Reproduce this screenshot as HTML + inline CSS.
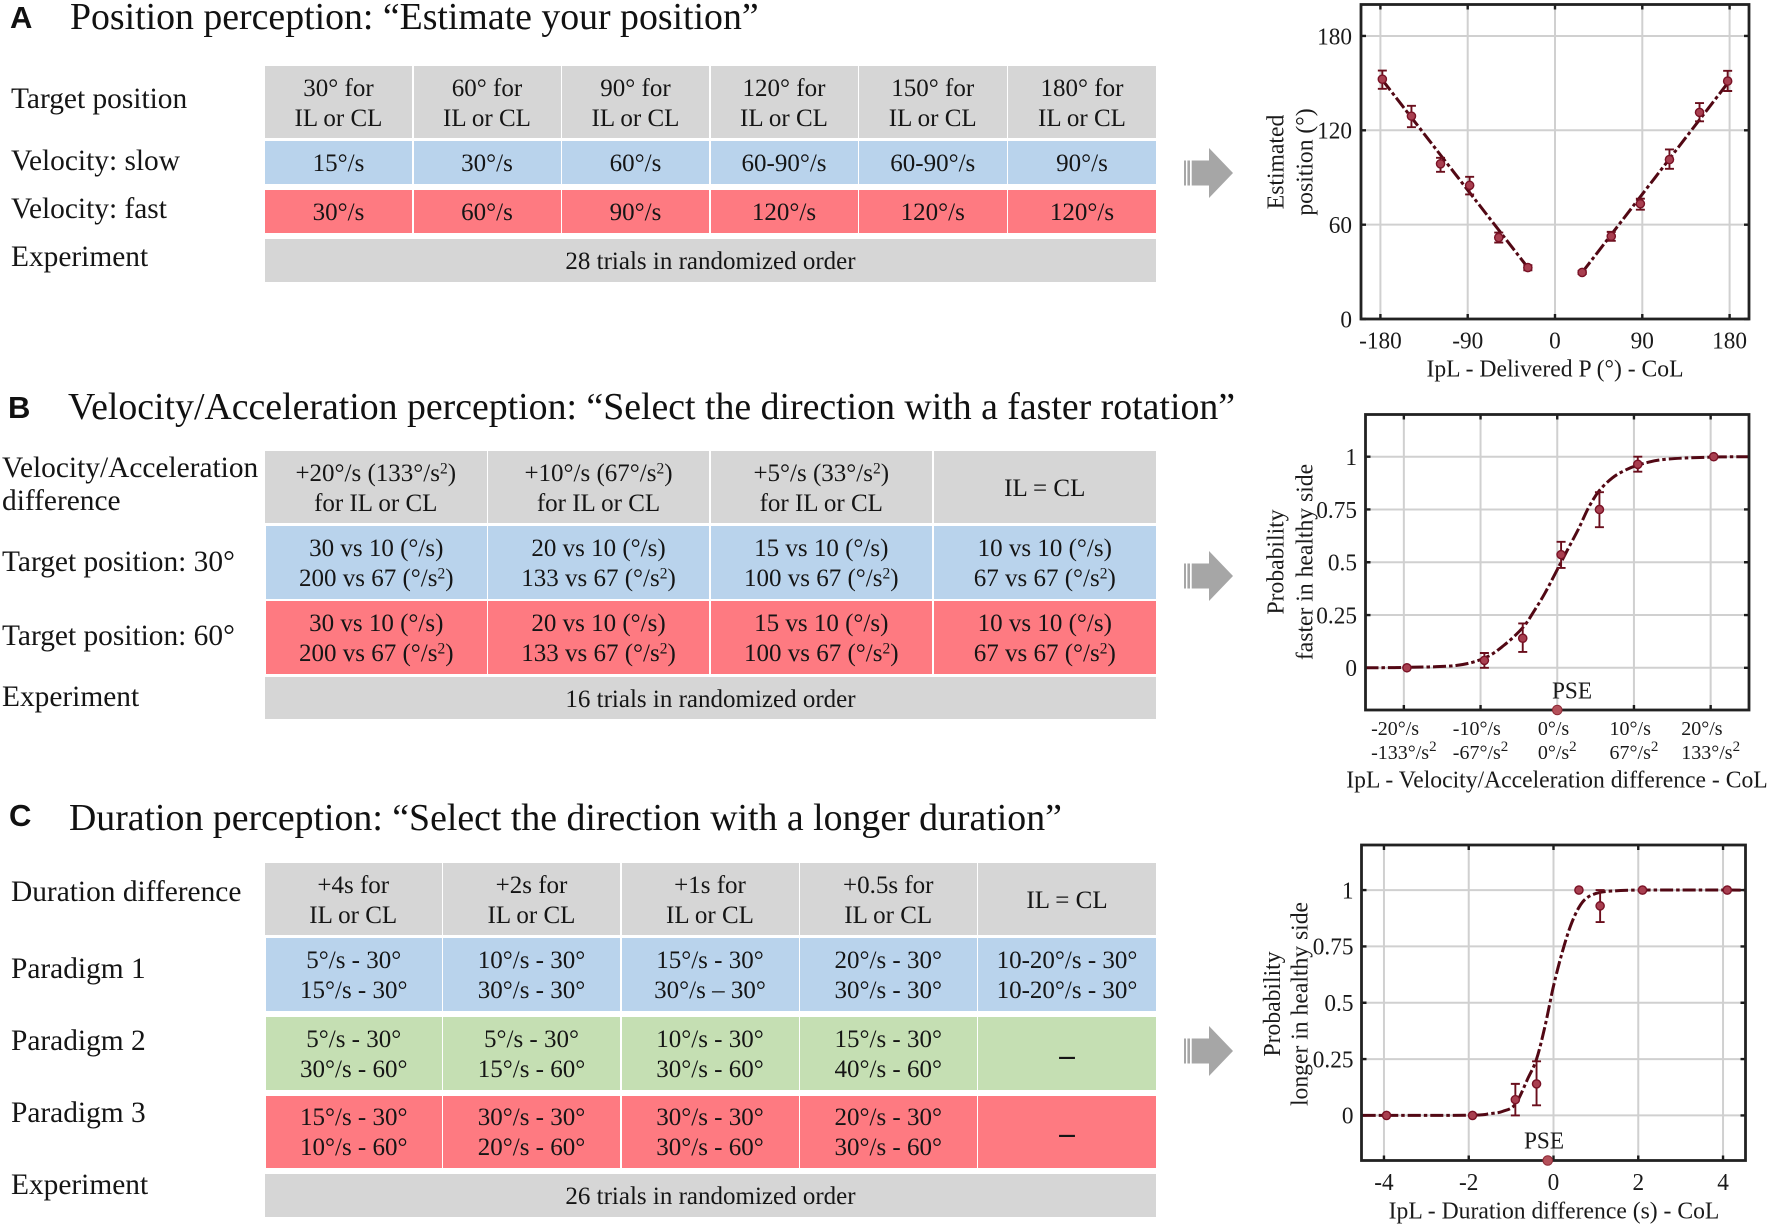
<!DOCTYPE html>
<html lang="en">
<head>
<meta charset="utf-8">
<title>Perception experiment paradigms</title>
<style>
html,body{margin:0;padding:0;background:#fff}
#page{position:relative;width:1772px;height:1225px;overflow:hidden;background:#fff;font-family:"Liberation Serif",serif;color:#151515;filter:blur(.3px)}
.t{position:absolute;white-space:nowrap;font-size:37.8px;line-height:44px;color:#111}
.p{position:absolute;font-family:"Liberation Sans",sans-serif;font-weight:700;font-size:31px;line-height:34px;color:#111}
.l{position:absolute;white-space:nowrap;font-size:29.4px;line-height:34px;color:#151515}
.c{position:absolute;box-sizing:border-box;padding-top:3px;display:flex;align-items:center;justify-content:center;text-align:center;font-size:25px;line-height:30px;color:#151515}
.g{background:#d6d6d6}.b{background:#b9d3ec}.r{background:#fe7a81}.e{background:#c5dfb3}
.d{font-size:31px;font-weight:700}
sup{font-size:.62em;line-height:0;vertical-align:.5em}
#art{position:absolute;left:0;top:0}
#art text{font-family:"Liberation Serif",serif;fill:#1a1a1a}
</style>
</head>
<body>
<div id="page">

<div class="p" style="left:10px;top:1px">A</div>
<div class="t" style="left:70px;top:-5px">Position perception: “Estimate your position”</div>
<div class="l" style="left:11px;top:82px">Target position</div>
<div class="l" style="left:11px;top:144px">Velocity: slow</div>
<div class="l" style="left:11px;top:192px">Velocity: fast</div>
<div class="l" style="left:11px;top:240px">Experiment</div>

<div class="c g" style="left:265px;top:66px;width:147px;height:72px">30° for<br>IL or CL</div>
<div class="c g" style="left:413.5px;top:66px;width:147px;height:72px">60° for<br>IL or CL</div>
<div class="c g" style="left:562px;top:66px;width:147px;height:72px">90° for<br>IL or CL</div>
<div class="c g" style="left:710.5px;top:66px;width:147px;height:72px">120° for<br>IL or CL</div>
<div class="c g" style="left:859px;top:66px;width:147.5px;height:72px">150° for<br>IL or CL</div>
<div class="c g" style="left:1008px;top:66px;width:148px;height:72px">180° for<br>IL or CL</div>

<div class="c b" style="left:265px;top:141px;width:147px;height:43px">15°/s</div>
<div class="c b" style="left:413.5px;top:141px;width:147px;height:43px">30°/s</div>
<div class="c b" style="left:562px;top:141px;width:147px;height:43px">60°/s</div>
<div class="c b" style="left:710.5px;top:141px;width:147px;height:43px">60-90°/s</div>
<div class="c b" style="left:859px;top:141px;width:147.5px;height:43px">60-90°/s</div>
<div class="c b" style="left:1008px;top:141px;width:148px;height:43px">90°/s</div>

<div class="c r" style="left:265px;top:190px;width:147px;height:43px">30°/s</div>
<div class="c r" style="left:413.5px;top:190px;width:147px;height:43px">60°/s</div>
<div class="c r" style="left:562px;top:190px;width:147px;height:43px">90°/s</div>
<div class="c r" style="left:710.5px;top:190px;width:147px;height:43px">120°/s</div>
<div class="c r" style="left:859px;top:190px;width:147.5px;height:43px">120°/s</div>
<div class="c r" style="left:1008px;top:190px;width:148px;height:43px">120°/s</div>

<div class="c g" style="left:265px;top:239px;width:891px;height:43px">28 trials in randomized order</div>

<div class="p" style="left:8px;top:391px">B</div>
<div class="t" style="left:68px;top:385px">Velocity/Acceleration perception: “Select the direction with a faster rotation”</div>
<div class="l" style="left:2px;top:451px">Velocity/Acceleration</div>
<div class="l" style="left:2px;top:484px">difference</div>
<div class="l" style="left:2px;top:545px">Target position: 30°</div>
<div class="l" style="left:2px;top:619px">Target position: 60°</div>
<div class="l" style="left:2px;top:680px">Experiment</div>

<div class="c g" style="left:265px;top:451px;width:221.5px;height:72px"><span>+20°/s (133°/s<sup>2</sup>)<br>for IL or CL</span></div>
<div class="c g" style="left:488px;top:451px;width:221px;height:72px"><span>+10°/s (67°/s<sup>2</sup>)<br>for IL or CL</span></div>
<div class="c g" style="left:710.5px;top:451px;width:221.5px;height:72px"><span>+5°/s (33°/s<sup>2</sup>)<br>for IL or CL</span></div>
<div class="c g" style="left:933.5px;top:451px;width:222.5px;height:72px">IL = CL</div>

<div class="c b" style="left:266px;top:526px;width:220.5px;height:73px"><span>30 vs 10 (°/s)<br>200 vs 67 (°/s<sup>2</sup>)</span></div>
<div class="c b" style="left:488px;top:526px;width:221px;height:73px"><span>20 vs 10 (°/s)<br>133 vs 67 (°/s<sup>2</sup>)</span></div>
<div class="c b" style="left:710.5px;top:526px;width:221.5px;height:73px"><span>15 vs 10 (°/s)<br>100 vs 67 (°/s<sup>2</sup>)</span></div>
<div class="c b" style="left:933.5px;top:526px;width:222.5px;height:73px"><span>10 vs 10 (°/s)<br>67 vs 67 (°/s<sup>2</sup>)</span></div>

<div class="c r" style="left:266px;top:601px;width:220.5px;height:72.5px"><span>30 vs 10 (°/s)<br>200 vs 67 (°/s<sup>2</sup>)</span></div>
<div class="c r" style="left:488px;top:601px;width:221px;height:72.5px"><span>20 vs 10 (°/s)<br>133 vs 67 (°/s<sup>2</sup>)</span></div>
<div class="c r" style="left:710.5px;top:601px;width:221.5px;height:72.5px"><span>15 vs 10 (°/s)<br>100 vs 67 (°/s<sup>2</sup>)</span></div>
<div class="c r" style="left:933.5px;top:601px;width:222.5px;height:72.5px"><span>10 vs 10 (°/s)<br>67 vs 67 (°/s<sup>2</sup>)</span></div>

<div class="c g" style="left:265px;top:677px;width:891px;height:42px">16 trials in randomized order</div>

<div class="p" style="left:9px;top:799px">C</div>
<div class="t" style="left:69px;top:796px">Duration perception: “Select the direction with a longer duration”</div>
<div class="l" style="left:11px;top:875px">Duration difference</div>
<div class="l" style="left:11px;top:952px">Paradigm 1</div>
<div class="l" style="left:11px;top:1024px">Paradigm 2</div>
<div class="l" style="left:11px;top:1096px">Paradigm 3</div>
<div class="l" style="left:11px;top:1168px">Experiment</div>

<div class="c g" style="left:265px;top:863px;width:176.5px;height:72px">+4s for<br>IL or CL</div>
<div class="c g" style="left:443px;top:863px;width:177px;height:72px">+2s for<br>IL or CL</div>
<div class="c g" style="left:621.5px;top:863px;width:177px;height:72px">+1s for<br>IL or CL</div>
<div class="c g" style="left:800px;top:863px;width:176.5px;height:72px">+0.5s for<br>IL or CL</div>
<div class="c g" style="left:978px;top:863px;width:178px;height:72px">IL = CL</div>

<div class="c b" style="left:266px;top:938px;width:175.5px;height:73px">5°/s - 30°<br>15°/s - 30°</div>
<div class="c b" style="left:443px;top:938px;width:177px;height:73px">10°/s - 30°<br>30°/s - 30°</div>
<div class="c b" style="left:621.5px;top:938px;width:177px;height:73px">15°/s - 30°<br>30°/s – 30°</div>
<div class="c b" style="left:800px;top:938px;width:176.5px;height:73px">20°/s - 30°<br>30°/s - 30°</div>
<div class="c b" style="left:978px;top:938px;width:178px;height:73px">10-20°/s - 30°<br>10-20°/s - 30°</div>

<div class="c e" style="left:266px;top:1017px;width:175.5px;height:72.5px">5°/s - 30°<br>30°/s - 60°</div>
<div class="c e" style="left:443px;top:1017px;width:177px;height:72.5px">5°/s - 30°<br>15°/s - 60°</div>
<div class="c e" style="left:621.5px;top:1017px;width:177px;height:72.5px">10°/s - 30°<br>30°/s - 60°</div>
<div class="c e" style="left:800px;top:1017px;width:176.5px;height:72.5px">15°/s - 30°<br>40°/s - 60°</div>
<div class="c e" style="left:978px;top:1017px;width:178px;height:72.5px"><span class="d">–</span></div>

<div class="c r" style="left:266px;top:1095.5px;width:175.5px;height:72.5px">15°/s - 30°<br>10°/s - 60°</div>
<div class="c r" style="left:443px;top:1095.5px;width:177px;height:72.5px">30°/s - 30°<br>20°/s - 60°</div>
<div class="c r" style="left:621.5px;top:1095.5px;width:177px;height:72.5px">30°/s - 30°<br>30°/s - 60°</div>
<div class="c r" style="left:800px;top:1095.5px;width:176.5px;height:72.5px">20°/s - 30°<br>30°/s - 60°</div>
<div class="c r" style="left:978px;top:1095.5px;width:178px;height:72.5px"><span class="d">–</span></div>

<div class="c g" style="left:265px;top:1174px;width:891px;height:43px">26 trials in randomized order</div>

<svg id="art" width="1772" height="1225" viewBox="0 0 1772 1225" xmlns="http://www.w3.org/2000/svg">
  <g fill="#a6a6a6" transform="translate(0,173)">
    <rect x="1184" y="-12.5" width="2" height="25"/><rect x="1187.4" y="-12.5" width="2.6" height="25"/><rect x="1191.7" y="-12.5" width="18" height="25"/><polygon points="1209,-25 1233,0 1209,25"/>
  </g>
  <g fill="#a6a6a6" transform="translate(0,576)">
    <rect x="1184" y="-12.5" width="2" height="25"/><rect x="1187.4" y="-12.5" width="2.6" height="25"/><rect x="1191.7" y="-12.5" width="18" height="25"/><polygon points="1209,-25 1233,0 1209,25"/>
  </g>
  <g fill="#a6a6a6" transform="translate(0,1051)">
    <rect x="1184" y="-12.5" width="2" height="25"/><rect x="1187.4" y="-12.5" width="2.6" height="25"/><rect x="1191.7" y="-12.5" width="18" height="25"/><polygon points="1209,-25 1233,0 1209,25"/>
  </g>
  <g id="chart-a"></g>
  <g id="chart-b"></g>
  <g id="chart-c"></g>
</svg>
</div>

<script>
/* Chart A: position perception */
const positionXTicks = [-180, -90, 0, 90, 180];
const positionYTicks = [0, 60, 120, 180];
const positionX = [-178, -148, -118, -88, -58, -28, 28, 58, 88, 118, 149, 178];
const positionY = [152.5, 129, 98.7, 85, 51.8, 32.7, 29.6, 52.6, 73.3, 101.4, 131.4, 151.3];
const positionErrLow = [146.4, 122, 93.6, 79.2, 48.6, 31, 28.6, 49.7, 69.5, 95.5, 125.7, 145];
const positionErrHigh = [158, 135.6, 102.5, 90.4, 55, 34.2, 30.6, 55.4, 76.5, 107.8, 137.3, 157.8];
const positionFitLeftX = [-178, -28];
const positionFitLeftY = [152, 32.7];
const positionFitRightX = [28, 178];
const positionFitRightY = [29.6, 150];

/* Chart B: velocity / acceleration perception */
const velocityXTicks = [-20, -10, 0, 10, 20];
const velocityYTicks = [0, 0.25, 0.5, 0.75, 1];
const velocityTickTop = ['-20°/s', '-10°/s', '0°/s', '10°/s', '20°/s'];
const velocityTickBottom = ['-133°/s', '-67°/s', '0°/s', '67°/s', '133°/s'];
const velocityX = [-19.6, -9.5, -4.5, 0.5, 5.5, 10.5, 20.4];
const velocityY = [0, 0.035, 0.14, 0.536, 0.75, 0.964, 1];
const velocityErrLow = [0, 0, 0.075, 0.473, 0.666, 0.929, 1];
const velocityErrHigh = [0, 0.07, 0.21, 0.597, 0.832, 1, 1];
const velocityFitX = [-25, -19.6, -13.2, -9.5, -7, -4.5, -3, -1.6, 0, 1.5, 2.8, 4.1, 5.5, 7.2, 8.8, 10.5, 13.9, 20, 25];
const velocityFitY = [0, 0.002, 0.011, 0.046, 0.105, 0.19, 0.27, 0.354, 0.465, 0.57, 0.66, 0.76, 0.84, 0.9, 0.935, 0.96, 0.987, 0.998, 1];
const velocityPse = [0];

/* Chart C: duration perception */
const durationXTicks = [-4, -2, 0, 2, 4];
const durationYTicks = [0, 0.25, 0.5, 0.75, 1];
const durationX = [-3.94, -1.91, -0.9, -0.4, 0.6, 1.1, 2.1, 4.1];
const durationY = [0, 0, 0.07, 0.14, 1, 0.93, 1, 1];
const durationErrLow = [0, 0, 0, 0.045, 1, 0.858, 1, 1];
const durationErrHigh = [0, 0, 0.14, 0.24, 1, 1, 1, 1];
const durationFitX = [-4.5, -2, -1.5, -1.2, -0.9, -0.6, -0.4, -0.2, 0, 0.2, 0.4, 0.6, 0.8, 1.1, 1.5, 2.1, 4.5];
const durationFitY = [0, 0.001, 0.008, 0.018, 0.05, 0.166, 0.25, 0.396, 0.574, 0.72, 0.84, 0.923, 0.967, 0.99, 0.997, 1, 1];
const durationPse = [-0.136];

const SVG_NS = 'http://www.w3.org/2000/svg';
const INK = '#520814';
const FONT = 24.5;
const TICK_SQUEEZE = 0.95;
const TITLE_SQUEEZE = 0.965;

function make(parent, tag, attrs, text) {
  const node = document.createElementNS(SVG_NS, tag);
  for (const key in attrs) node.setAttribute(key, attrs[key]);
  if (text !== undefined) node.textContent = text;
  parent.appendChild(node);
  return node;
}
function linearScale(d0, d1, r0, r1) {
  return v => r0 + (v - d0) / (d1 - d0) * (r1 - r0);
}
function placed(x, y, squeeze) {
  return 'translate(' + x + ',' + y + ') scale(' + squeeze + ',1)';
}
function smoothPath(xs, ys) {
  let d = 'M' + xs[0] + ' ' + ys[0];
  for (let i = 0; i < xs.length - 1; i++) {
    const i0 = Math.max(i - 1, 0), i3 = Math.min(i + 2, xs.length - 1);
    const c1x = xs[i] + (xs[i + 1] - xs[i0]) / 6, c1y = ys[i] + (ys[i + 1] - ys[i0]) / 6;
    const c2x = xs[i + 1] - (xs[i3] - xs[i]) / 6, c2y = ys[i + 1] - (ys[i3] - ys[i]) / 6;
    d += ' C' + c1x + ' ' + c1y + ' ' + c2x + ' ' + c2y + ' ' + xs[i + 1] + ' ' + ys[i + 1];
  }
  return d;
}
function drawAxes(g, box, sx, sy, xTicks, yTicks) {
  xTicks.forEach(v => {
    const grid = make(g, 'line', {x1: sx(v), x2: sx(v), y1: box.t, y2: box.b, stroke: '#d0d0d0', 'stroke-width': 2});
    
    
  });
  yTicks.forEach(v => {
    const grid = make(g, 'line', {x1: box.l, x2: box.r, y1: sy(v), y2: sy(v), stroke: '#d0d0d0', 'stroke-width': 2});
    
    
  });
  xTicks.forEach(v => {
    const tick = make(g, 'path', {d: 'M' + sx(v) + ' ' + box.t + 'v5M' + sx(v) + ' ' + box.b + 'v-5', stroke: '#1c1c1c', 'stroke-width': 2.4, fill: 'none'});
    
    
  });
  yTicks.forEach(v => {
    const tick = make(g, 'path', {d: 'M' + box.l + ' ' + sy(v) + 'h5M' + box.r + ' ' + sy(v) + 'h-5', stroke: '#1c1c1c', 'stroke-width': 2.4, fill: 'none'});
    
    
  });
}
function drawFrame(g, box) {
  const frame = make(g, 'rect', {x: box.l, y: box.t, width: box.r - box.l, height: box.b - box.t, fill: 'none', stroke: '#222', 'stroke-width': 2.8});
  
  
}
function drawFit(g, xs, ys, sx, sy) {
  const fit = make(g, 'path', {d: smoothPath(xs.map(sx), ys.map(sy)), fill: 'none', stroke: INK, 'stroke-width': 3, 'stroke-dasharray': '13 3 3.5 3'});
  
  
}
function drawPoints(g, xs, ys, lows, highs, sx, sy) {
  xs.forEach((x, i) => {
    if (highs[i] - lows[i] > 0) {
      const px = sx(x), lo = sy(lows[i]), hi = sy(highs[i]);
      const bar = make(g, 'path', {d: 'M' + px + ' ' + lo + 'V' + hi + 'M' + (px - 4.5) + ' ' + lo + 'h9M' + (px - 4.5) + ' ' + hi + 'h9', fill: 'none', stroke: '#6a0e1c', 'stroke-width': 1.9});
      
      
    }
    const dot = make(g, 'circle', {cx: sx(x), cy: sy(ys[i]), r: 4.1, fill: '#a83f50', stroke: '#7a1226', 'stroke-width': 1.4});
    
    
  });
}
function drawYLabels(g, ticks, sy, rightX) {
  ticks.forEach(v => {
    const label = make(g, 'text', {transform: placed(rightX, sy(v) + 8.3, TICK_SQUEEZE), 'text-anchor': 'end', 'font-size': FONT}, String(v));
    
    
  });
}
function drawXLabels(g, ticks, sx, cy) {
  ticks.forEach(v => {
    const label = make(g, 'text', {transform: placed(sx(v), cy + 8.3, TICK_SQUEEZE), 'text-anchor': 'middle', 'font-size': FONT}, String(v));
    
    
  });
}
function drawRotatedTitle(g, text, x, cy, name) {
  const title = make(g, 'text', {transform: 'translate(' + x + ',' + cy + ') rotate(-90) scale(' + TITLE_SQUEEZE + ',1)', 'text-anchor': 'middle', 'font-size': FONT, y: 8}, text);
  
  
}
function drawXTitle(g, text, cx, cy, name) {
  const title = make(g, 'text', {transform: placed(cx, cy + 8.3, TITLE_SQUEEZE), 'text-anchor': 'middle', 'font-size': FONT}, text);
  
  
}
function drawPse(g, value, sx, box, textX, textY) {
  const label = make(g, 'text', {transform: placed(textX, textY + 8.3, TICK_SQUEEZE), 'text-anchor': 'middle', 'font-size': FONT}, 'PSE');
  
  
  const marker = make(g, 'circle', {cx: sx(value), cy: box.b, r: 4.8, fill: '#b4505a', stroke: '#8d2a36', 'stroke-width': 1});
  
  
}

/* ---- Chart A ---- */
(function () {
  const g = document.getElementById('chart-a');
  const box = {l: 1361, r: 1749, t: 4.5, b: 319};
  const sx = linearScale(-200, 200, box.l, box.r);
  const sy = linearScale(0, 200, box.b, box.t);
  drawAxes(g, box, sx, sy, positionXTicks, positionYTicks);
  drawFit(g, positionFitLeftX, positionFitLeftY, sx, sy);
  drawFit(g, positionFitRightX, positionFitRightY, sx, sy);
  drawPoints(g, positionX, positionY, positionErrLow, positionErrHigh, sx, sy);
  drawFrame(g, box);
  drawYLabels(g, positionYTicks, sy, 1352);
  drawXLabels(g, positionXTicks, sx, 340);
  drawRotatedTitle(g, 'Estimated', 1275.5, 162, 'y-axis-title-line-1');
  drawRotatedTitle(g, 'position (°)', 1304.5, 162, 'y-axis-title-line-2');
  drawXTitle(g, 'IpL - Delivered P (°) - CoL', 1555, 368, 'x-axis-title');
})();

/* ---- Chart B ---- */
(function () {
  const g = document.getElementById('chart-b');
  const box = {l: 1365.5, r: 1749, t: 414.5, b: 710};
  const sx = linearScale(-25, 25, box.l, box.r);
  const sy = linearScale(-0.2, 1.2, box.b, box.t);
  drawAxes(g, box, sx, sy, velocityXTicks, velocityYTicks);
  drawFit(g, velocityFitX, velocityFitY, sx, sy);
  drawPoints(g, velocityX, velocityY, velocityErrLow, velocityErrHigh, sx, sy);
  drawFrame(g, box);
  drawPse(g, velocityPse[0], sx, box, 1572, 690);
  drawYLabels(g, velocityYTicks, sy, 1357);
  velocityXTicks.forEach((v, i) => {
    const bottom = make(g, 'text', {x: sx(v), y: 759, 'text-anchor': 'middle', 'font-size': 20}, velocityTickBottom[i]);
    
    
    make(bottom, 'tspan', {dy: -8, 'font-size': 15}, '2');
    const left = bottom.getBBox().x;
    const top = make(g, 'text', {x: left, y: 735, 'font-size': 20}, velocityTickTop[i]);
    
    
  });
  drawRotatedTitle(g, 'Probability', 1275.5, 562, 'y-axis-title-line-1');
  drawRotatedTitle(g, 'faster in healthy side', 1304.5, 562, 'y-axis-title-line-2');
  drawXTitle(g, 'IpL - Velocity/Acceleration difference - CoL', 1557, 779, 'x-axis-title');
})();

/* ---- Chart C ---- */
(function () {
  const g = document.getElementById('chart-c');
  const box = {l: 1361.5, r: 1745.5, t: 845, b: 1160.5};
  const sx = linearScale(-4.53, 4.53, box.l, box.r);
  const sy = linearScale(-0.2, 1.2, box.b, box.t);
  drawAxes(g, box, sx, sy, durationXTicks, durationYTicks);
  drawFit(g, durationFitX, durationFitY, sx, sy);
  drawPoints(g, durationX, durationY, durationErrLow, durationErrHigh, sx, sy);
  drawFrame(g, box);
  drawPse(g, durationPse[0], sx, box, 1544, 1140);
  drawYLabels(g, durationYTicks, sy, 1353.5);
  drawXLabels(g, durationXTicks, sx, 1181.5);
  drawRotatedTitle(g, 'Probability', 1272, 1004, 'y-axis-title-line-1');
  drawRotatedTitle(g, 'longer in healthy side', 1299.5, 1004, 'y-axis-title-line-2');
  drawXTitle(g, 'IpL - Duration difference (s) - CoL', 1554, 1210, 'x-axis-title');
})();
</script>
</body>
</html>
